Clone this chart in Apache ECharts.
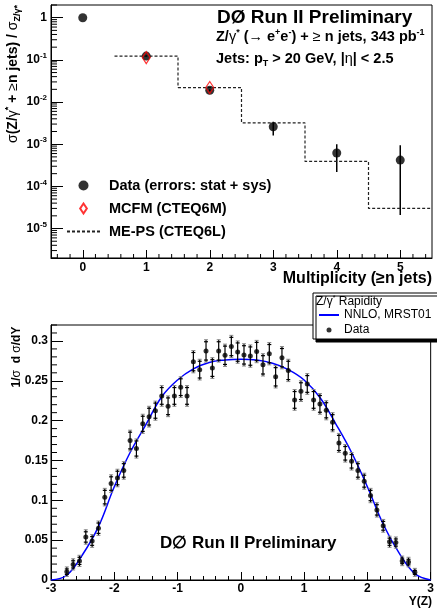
<!DOCTYPE html>
<html>
<head>
<meta charset="utf-8">
<script src="https://cdn.jsdelivr.net/npm/echarts@6/dist/echarts.min.js"></script>
<style>
  html, body { margin: 0; padding: 0; background: #fff; }
  #chart { width: 437px; height: 609px; }
</style>
</head>
<body>
<div id="chart"></div>
<script>
// ---- top panel: jet multiplicity
var nJets = [0, 1, 2, 3, 4, 5];
var dataVal = [1.0, 0.123, 0.019, 0.0026, 0.00062, 0.00042];
var dataLo = [1.0, 0.118, 0.018, 0.0016, 0.00022, 0.000021];
var dataHi = [1.0, 0.128, 0.020, 0.0034, 0.0010, 0.00094];
var mcfmN = [1, 2];
var mcfmVal = [0.113, 0.022];
var mepsN = [1, 2, 3, 4, 5];
var mepsVal = [0.123, 0.022, 0.0032, 0.00039, 0.00003];
var decadeTicks = [1e-5, 1e-4, 1e-3, 1e-2, 1e-1, 1];

// ---- bottom panel: Z rapidity
var rapBins = [-2.75, -2.65, -2.55, -2.45, -2.35, -2.25, -2.15, -2.05, -1.95, -1.85,
  -1.75, -1.65, -1.55, -1.45, -1.35, -1.25, -1.15, -1.05, -0.95, -0.85,
  -0.75, -0.65, -0.55, -0.45, -0.35, -0.25, -0.15, -0.05, 0.05, 0.15,
  0.25, 0.35, 0.45, 0.55, 0.65, 0.75, 0.85, 0.95, 1.05, 1.15,
  1.25, 1.35, 1.45, 1.55, 1.65, 1.75, 1.85, 1.95, 2.05, 2.15,
  2.25, 2.35, 2.45, 2.55, 2.65, 2.75];
var rapVal = [0.0104, 0.0196, 0.024, 0.054, 0.049, 0.065, 0.104, 0.121, 0.128, 0.1375,
  0.175, 0.165, 0.196, 0.205, 0.2125, 0.231, 0.218, 0.231, 0.242, 0.231,
  0.274, 0.264, 0.2875, 0.266, 0.2875, 0.282, 0.293, 0.286, 0.2825, 0.281,
  0.2867, 0.27, 0.284, 0.255, 0.279, 0.263, 0.226, 0.237, 0.246, 0.226,
  0.221, 0.213, 0.198, 0.172, 0.159, 0.149, 0.1375, 0.124, 0.106, 0.088,
  0.068, 0.048, 0.047, 0.024, 0.0225, 0.0096];
var rapErr = [0.006, 0.007, 0.007, 0.009, 0.008, 0.009, 0.011, 0.011, 0.011, 0.011,
  0.013, 0.012, 0.012, 0.013, 0.012, 0.013, 0.013, 0.013, 0.013, 0.013,
  0.014, 0.013, 0.014, 0.013, 0.014, 0.014, 0.014, 0.014, 0.014, 0.014,
  0.014, 0.014, 0.014, 0.014, 0.014, 0.014, 0.013, 0.013, 0.013, 0.013,
  0.013, 0.012, 0.012, 0.012, 0.011, 0.011, 0.011, 0.010, 0.009, 0.009,
  0.008, 0.007, 0.007, 0.006, 0.006, 0.005];
var nnloY = [-3, -2.75, -2.5, -2.25, -2, -1.75, -1.5, -1.25, -1, -0.75, -0.5, -0.25, 0,
  0.25, 0.5, 0.75, 1, 1.25, 1.5, 1.75, 2, 2.25, 2.5, 2.75, 3];
var nnloVal = [0.0, 0.006, 0.032, 0.067, 0.117, 0.160, 0.195, 0.230, 0.251, 0.265, 0.273, 0.276, 0.277,
  0.276, 0.272, 0.264, 0.251, 0.229, 0.196, 0.160, 0.117, 0.070, 0.034, 0.008, 0.0];
var rapYTicks = [0, 0.05, 0.1, 0.15, 0.2, 0.25, 0.3];

var FONT = 'Liberation Sans, Arial, Helvetica, sans-serif';

// minor tick positions (axis decoration only)
var logMinor = [];
for (var d = -6; d <= 0; d++) {
  for (var k = 2; k <= 9; k++) {
    var v = k * Math.pow(10, d);
    if (v >= 2e-6 && v <= 2) logMinor.push([-0.5, v]);
  }
}
var multMinor = [];
for (var i = -2; i <= 27; i++) {
  if (i % 5 !== 0) multMinor.push([i / 5, 2e-6]);
}
var rapYMinor = [];
for (var j = 1; j <= 32; j++) {
  if (j % 5 !== 0) rapYMinor.push([-3, j / 100]);
}

function tickSeries(gi, items, vertical, len) {
  return {
    type: 'custom', xAxisIndex: gi, yAxisIndex: gi, silent: true, z: 5,
    data: items,
    renderItem: function (params, api) {
      var p = api.coord([api.value(0), api.value(1)]);
      return {
        type: 'line',
        shape: vertical ? { x1: p[0], y1: p[1], x2: p[0], y2: p[1] - len }
                        : { x1: p[0], y1: p[1], x2: p[0] + len, y2: p[1] },
        style: { stroke: '#000', lineWidth: 1 }
      };
    }
  };
}

var chart = echarts.init(document.getElementById('chart'));

var mepsSteps = mepsN.map(function (n, i) { return [n - 0.5, mepsVal[i]]; });
mepsSteps.push([mepsN[mepsN.length - 1] + 0.5, mepsVal[mepsVal.length - 1]]);

var supRich = {
  b: { fontSize: 14.5, fontWeight: 'bold', lineHeight: 18, fontFamily: FONT },
  n: { fontSize: 14.5, fontWeight: 'normal', lineHeight: 18, fontFamily: FONT },
  s: { fontSize: 9, fontWeight: 'bold', lineHeight: 9, verticalAlign: 'top', fontFamily: FONT },
  sub: { fontSize: 9, fontWeight: 'bold', lineHeight: 9, verticalAlign: 'bottom', fontFamily: FONT }
};

var option = {
  animation: false,
  textStyle: { fontFamily: FONT, color: '#000' },
  grid: [
    { left: 51, right: 5, top: 5, height: 253, show: true, borderColor: '#000', borderWidth: 1 },
    { left: 51, right: 5, top: 325, height: 255, show: true, borderColor: '#000', borderWidth: 1 }
  ],
  xAxis: [
    {
      gridIndex: 0, type: 'value', min: -0.5, max: 5.5,
      axisLine: { onZero: false, lineStyle: { color: '#000', width: 1 } },
      axisTick: { inside: true, length: 8, customValues: nJets, lineStyle: { color: '#000' } },
      axisLabel: { customValues: nJets, color: '#000', fontWeight: 'bold', fontSize: 12, margin: 4 },
      splitLine: { show: false }
    },
    {
      gridIndex: 1, type: 'value', min: -3, max: 3, interval: 1,
      axisLine: { onZero: false, lineStyle: { color: '#000', width: 1 } },
      axisTick: { inside: true, length: 8, lineStyle: { color: '#000' } },
      minorTick: { show: true, splitNumber: 5, length: 4, lineStyle: { color: '#000' } },
      axisLabel: { color: '#000', fontWeight: 'bold', fontSize: 12, margin: 3 },
      splitLine: { show: false }
    }
  ],
  yAxis: [
    {
      gridIndex: 0, type: 'log', logBase: 10, min: 2e-6, max: 2,
      axisLine: { show: true, onZero: false, lineStyle: { color: '#000', width: 1 } },
      axisTick: { show: true, inside: true, length: 12, customValues: decadeTicks, lineStyle: { color: '#000' } },
      axisLabel: {
        customValues: decadeTicks, margin: 4,
        formatter: function (v) {
          var e = Math.round(Math.log(v) / Math.LN10);
          return e === 0 ? '{b|1}' : '{b|10}{s|' + e + '}';
        },
        rich: {
          b: { fontSize: 12, fontWeight: 'bold', lineHeight: 16, color: '#000', fontFamily: FONT },
          s: { fontSize: 8, fontWeight: 'bold', lineHeight: 8, verticalAlign: 'top', color: '#000', fontFamily: FONT }
        }
      },
      splitLine: { show: false }
    },
    {
      gridIndex: 1, type: 'value', min: 0, max: 0.32,
      axisLine: { show: true, onZero: false, lineStyle: { color: '#000', width: 1 } },
      axisTick: { show: true, inside: true, length: 12, customValues: rapYTicks, lineStyle: { color: '#000' } },
      axisLabel: { customValues: rapYTicks, color: '#000', fontWeight: 'bold', fontSize: 12, margin: 3 },
      splitLine: { show: false }
    }
  ],
  legend: [
    {
      left: 61, top: 173, orient: 'vertical', itemWidth: 33, itemHeight: 10, itemGap: 8,
      data: [
        'Data (errors: stat + sys)',
        { name: 'MCFM (CTEQ6M)', icon: 'path://M4,0 L8,6 L4,12 L0,6 Z' },
        'ME-PS (CTEQ6L)'
      ],
      symbolKeepAspect: true,
      textStyle: { fontSize: 14.5, fontWeight: 'bold', color: '#000', fontFamily: FONT, padding: [0, 0, 0, 4] },
      selectedMode: false
    },
    {
      left: 313, top: 293, orient: 'vertical', itemWidth: 20, itemHeight: 5, itemGap: 3,
      padding: [16, 8, 3, 5],
      data: ['NNLO, MRST01', 'Data'],
      backgroundColor: '#fff', borderColor: '#000', borderWidth: 1, borderRadius: 0,
      shadowColor: '#000', shadowBlur: 0, shadowOffsetX: 3, shadowOffsetY: 3,
      textStyle: { fontSize: 12, color: '#000', fontFamily: FONT },
      selectedMode: false
    }
  ],
  graphic: [
    { type: 'text', x: 217, y: 18, z: 10, style: { text: 'DØ Run II Preliminary', fontSize: 19, fontWeight: 'bold', fontFamily: FONT, fill: '#000', verticalAlign: 'middle' } },
    { type: 'text', x: 216, y: 37, z: 10, style: { text: '{b|Z/}{n|γ}{s|*}{b| (}{n|→}{b| e}{s|+}{b|e}{s|-}{b|) + }{n|≥}{b| n jets, 343 pb}{s|-1}', rich: supRich, verticalAlign: 'middle' } },
    { type: 'text', x: 216, y: 59, z: 10, style: { text: '{b|Jets: p}{sub|T}{b| > 20 GeV, |}{n|η}{b|| < 2.5}', rich: supRich, verticalAlign: 'middle' } },
    { type: 'text', x: 13, y: 74, rotation: Math.PI / 2, z: 10, style: {
        text: '{n|σ}{b|(Z/}{n|γ}{s|*}{b| + }{n|≥}{b|n jets) / }{n|σ}{sub|Z/γ*}',
        align: 'center', verticalAlign: 'middle',
        rich: {
          b: { fontSize: 14, fontWeight: 'bold', lineHeight: 18, fontFamily: FONT },
          n: { fontSize: 14, lineHeight: 18, fontFamily: FONT },
          s: { fontSize: 9, fontWeight: 'bold', lineHeight: 9, verticalAlign: 'top', fontFamily: FONT },
          sub: { fontSize: 9, fontWeight: 'bold', lineHeight: 9, verticalAlign: 'bottom', fontFamily: FONT }
        } } },
    { type: 'text', x: 432, y: 279, z: 10, style: { text: 'Multiplicity (≥n jets)', fontSize: 16, fontWeight: 'bold', fontFamily: FONT, fill: '#000', align: 'right', verticalAlign: 'middle' } },
    { type: 'text', x: 316, y: 302, z: 20, style: { text: '{n|Z/γ}{s|*}{n| Rapidity}', verticalAlign: 'middle',
        rich: { n: { fontSize: 12, lineHeight: 14, fontFamily: FONT }, s: { fontSize: 7, lineHeight: 7, verticalAlign: 'top', fontFamily: FONT } } } },
    { type: 'text', x: 17, y: 357, rotation: Math.PI / 2, z: 10, style: {
        text: '{b|1/}{n|σ}{b|  d }{n|σ}{b|/dY}', align: 'center', verticalAlign: 'middle',
        rich: { b: { fontSize: 12, fontWeight: 'bold', fontFamily: FONT }, n: { fontSize: 12, fontFamily: FONT } } } },
    { type: 'text', x: 432, y: 602, z: 10, style: { text: 'Y(Z)', fontSize: 12, fontWeight: 'bold', fontFamily: FONT, fill: '#000', align: 'right', verticalAlign: 'middle' } },
    { type: 'text', x: 160, y: 543, z: 10, style: { text: 'D∅ Run II Preliminary', fontSize: 17, fontWeight: 'bold', fontFamily: FONT, fill: '#000', verticalAlign: 'middle' } }
  ],
  series: [
    tickSeries(0, logMinor, false, 6),
    tickSeries(0, multMinor, true, 4),
    tickSeries(1, rapYMinor, false, 6),
    {
      name: 'ME-PS (CTEQ6L)', type: 'line', xAxisIndex: 0, yAxisIndex: 0,
      step: 'end', symbol: 'none', data: mepsSteps,
      lineStyle: { color: '#222', width: 1.2, type: [3, 2] },
      itemStyle: { color: 'rgba(0,0,0,0)', borderWidth: 0 }
    },
    {
      type: 'custom', xAxisIndex: 0, yAxisIndex: 0, silent: true, z: 3,
      data: nJets.map(function (n, i) { return [n, dataLo[i], dataHi[i]]; }),
      encode: { x: 0, y: [1, 2] },
      renderItem: function (params, api) {
        var lo = api.coord([api.value(0), api.value(1)]);
        var hi = api.coord([api.value(0), api.value(2)]);
        return { type: 'line', shape: { x1: lo[0], y1: lo[1], x2: hi[0], y2: hi[1] }, style: { stroke: '#000', lineWidth: 1.5 } };
      }
    },
    {
      name: 'Data (errors: stat + sys)', type: 'scatter', xAxisIndex: 0, yAxisIndex: 0,
      symbol: 'circle', symbolSize: 9, z: 4,
      data: nJets.map(function (n, i) { return [n, dataVal[i]]; }),
      itemStyle: { color: '#000' }
    },
    {
      name: 'MCFM (CTEQ6M)', type: 'scatter', xAxisIndex: 0, yAxisIndex: 0,
      symbol: 'diamond', symbolSize: [8, 12], z: 6,
      data: mcfmN.map(function (n, i) { return [n, mcfmVal[i]]; }),
      itemStyle: { color: 'rgba(0,0,0,0)', borderColor: '#ff0000', borderWidth: 1.2 }
    },
    {
      name: 'NNLO, MRST01', type: 'line', xAxisIndex: 1, yAxisIndex: 1,
      smooth: 0.4, symbol: 'none', z: 2,
      data: nnloY.map(function (y, i) { return [y, nnloVal[i]]; }),
      lineStyle: { color: '#0000ff', width: 1.5 },
      itemStyle: { color: 'rgba(0,0,0,0)', borderWidth: 0 }
    },
    {
      type: 'custom', xAxisIndex: 1, yAxisIndex: 1, silent: true, z: 3,
      data: rapBins.map(function (y, i) { return [y, rapVal[i], rapErr[i]]; }),
      encode: { x: 0, y: 1 },
      renderItem: function (params, api) {
        var x = api.value(0), y = api.value(1), e = api.value(2);
        var t = api.coord([x, y + e]);
        var b = api.coord([x, y - e]);
        var w = 2;
        var st = { stroke: '#000', lineWidth: 1.2 };
        var sg = { stroke: '#888', lineWidth: 1 };
        return {
          type: 'group', children: [
            { type: 'line', shape: { x1: t[0], y1: t[1], x2: b[0], y2: b[1] }, style: st },
            { type: 'line', shape: { x1: t[0] - w, y1: t[1], x2: t[0] + w, y2: t[1] }, style: sg },
            { type: 'line', shape: { x1: b[0] - w, y1: b[1], x2: b[0] + w, y2: b[1] }, style: sg },
            { type: 'line', shape: { x1: t[0] - w, y1: t[1] + 2, x2: t[0] + w, y2: t[1] + 2 }, style: st },
            { type: 'line', shape: { x1: b[0] - w, y1: b[1] - 2, x2: b[0] + w, y2: b[1] - 2 }, style: st }
          ]
        };
      }
    },
    {
      name: 'Data', type: 'scatter', xAxisIndex: 1, yAxisIndex: 1,
      symbol: 'circle', symbolSize: 5, z: 4,
      data: rapBins.map(function (y, i) { return [y, rapVal[i]]; }),
      itemStyle: { color: '#000' }
    }
  ]
};

chart.setOption(option);
window.addEventListener('resize', function () { chart.resize(); });
</script>
</body>
</html>
